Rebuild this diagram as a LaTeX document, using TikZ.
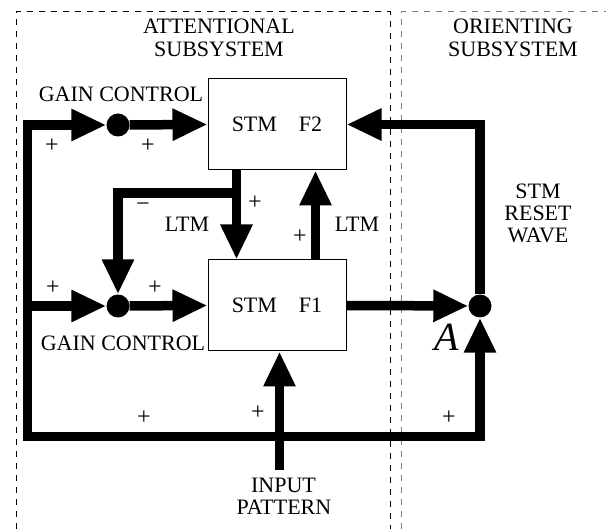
\documentclass[tikz,border=0pt]{standalone}
\usepackage{fontspec}
\setmainfont{Liberation Serif}
\usetikzlibrary{arrows.meta}
\begin{document}
\begin{tikzpicture}[x=1pt,y=-1pt,
  >={Triangle[length=35pt,width=30pt]},
  conn/.style={line width=9.5pt, line join=miter, ->},
  blk/.style={draw, line width=1pt, minimum width=138pt, minimum height=91pt, inner sep=0pt, font=\fontsize{22}{24}\selectfont},
  dot/.style={circle, fill, minimum size=23pt, inner sep=0pt},
  lbl/.style={font=\fontsize{22}{23}\selectfont, inner sep=0pt, anchor=base},
  sgn/.style={font=\fontsize{24}{25}\selectfont, inner sep=0pt, anchor=center},
  region/.style={line width=1pt, dash pattern=on 6pt off 6pt}
]
\useasboundingbox (0,0) rectangle (606,529);
% subsystem regions
\draw[region] (16,529) -- (16,12) -- (390,12) -- (390,529);
\draw[region, gray] (401,529) -- (401,12) -- (606,12);
% blocks
\node[blk] (f2) at (277,124.5) {STM\quad F2};
\node[blk] (f1) at (277,305.5) {STM\quad F1};
\node[dot] (g2) at (118,125) {};
\node[dot] (g1) at (118,306) {};
\node[dot] (A) at (480,306) {};
% helper coordinates
\coordinate (ctl) at (27.5,125);
\coordinate (cml) at (27.5,306);
\coordinate (cbl) at (27.5,436.5);
\coordinate (cbr) at (480,436.5);
\coordinate (br) at (237,193);
\coordinate (inp) at (279.5,470);
% connectors
\draw[conn,<->] (g2) -- (ctl) -- (cbl) -- (cbr) -- (A);
\draw[conn] (cml) -- (g1);
\draw[conn] (g2) -- (f2.west);
\draw[conn] (g1) -- (f1.west);
\draw[conn] (f1.east) -- (A);
\draw[conn] (A) |- (f2.east);
\draw[conn] ([xshift=29pt]f2.south west) -- ([xshift=29pt]f1.north west);
\draw[conn] (br) -| (g1);
\draw[conn] ([xshift=108pt]f1.north west) -- ([xshift=108pt]f2.south west);
\draw[conn] (inp) -- (inp |- f1.south);
% labels
\node[lbl] (t1) at (219,34) {ATTENTIONAL};
\node[lbl] (t2) at (219,57) {SUBSYSTEM};
\node[lbl] (t3) at (513,34) {ORIENTING};
\node[lbl] (t4) at (513,57) {SUBSYSTEM};
\node[lbl] (r1) at (538,199) {STM};
\node[lbl] (r2) at (538,221) {RESET};
\node[lbl] (r3) at (538,243) {WAVE};
\node[lbl] (gc2) at (121,102) {GAIN CONTROL};
\node[lbl] (gc1) at (123,351) {GAIN CONTROL};
\node[lbl] (ltm1) at (187,232) {LTM};
\node[lbl] (ltm2) at (357,232) {LTM};
\node[lbl] (ip1) at (283.5,493) {INPUT};
\node[lbl] (ip2) at (284,515) {PATTERN};
\node[font=\fontsize{40}{42}\selectfont\itshape, inner sep=0pt, anchor=base] (la) at (446.5,351) {A};
% signs
\node[sgn] (s1) at (52,146) {+};
\node[sgn] (s2) at (148,146) {+};
\node[sgn] (s3) at (143,207) {−};
\node[sgn] (s4) at (255,203) {+};
\node[sgn] (s5) at (300,237) {+};
\node[sgn] (s6) at (53,288) {+};
\node[sgn] (s7) at (155,288) {+};
\node[sgn] (s8) at (258,413) {+};
\node[sgn] (s9) at (144,418) {+};
\node[sgn] (s10) at (449,418) {+};
\end{tikzpicture}
\end{document}
